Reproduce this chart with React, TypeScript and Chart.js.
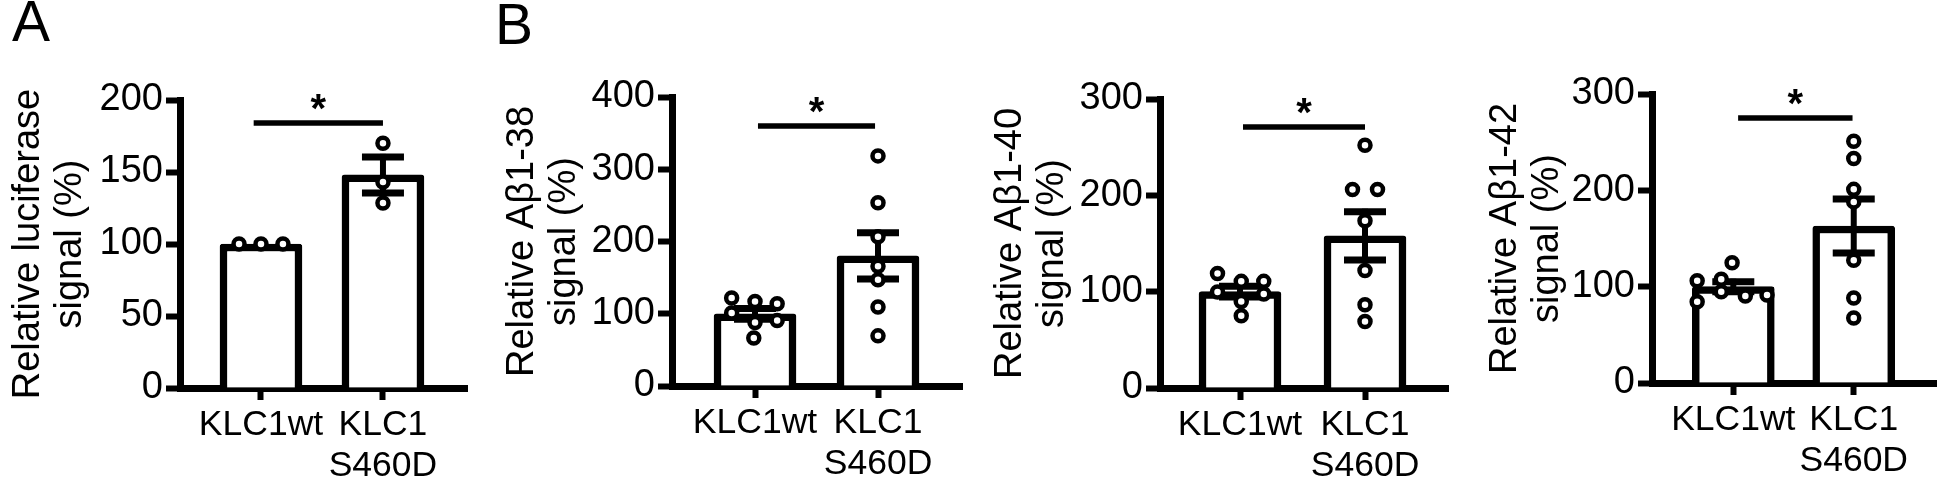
import React, { useEffect, useRef } from 'react';
import { Chart, registerables } from 'chart.js';

Chart.register(...registerables);

const FONT = '"Liberation Sans", Arial, Helvetica, sans-serif';

// ---- shared category labels ----
const categoryLabels: string[][] = [['KLC1wt'], ['KLC1', 'S460D']];

// ---- Panel A: luciferase ----
const lucMeans = [100, 148];
const lucSem = [0, 12.5];
const lucWt = [100, 100, 100];
const lucWtJitter = [-0.18, 0, 0.18];
const lucMut = [170, 143, 128.5];
const lucMutJitter = [0, 0, 0];
const lucSig = { y: 184, from: -0.06, to: 1.0 };
const lucTitle = ['Relative luciferase', 'signal (%)'];

// ---- Panel B: Aβ1-38 ----
const ab38Means = [99.8, 180];
const ab38Sem = [7.5, 32];
const ab38Wt = [121.8, 117.1, 113.9, 101, 87.9, 90.7, 66.3];
const ab38WtJitter = [-0.19, 0, 0.18, -0.19, 0, 0.18, -0.01];
const ab38Mut = [318.5, 253.7, 206.5, 165.7, 147.2, 109.3, 69.4];
const ab38MutJitter = [0, 0, 0, 0, 0, 0, 0];
const ab38Sig = { y: 360, from: 0.024, to: 0.976 };
const ab38Title = ['Relative Aβ1-38', 'signal (%)'];

// ---- Panel C: Aβ1-40 ----
const ab40Means = [100, 158];
const ab40Sem = [5.6, 25];
const ab40Wt = [118.75, 110.7, 110.7, 99.7, 89.9, 97.6, 75];
const ab40WtJitter = [-0.18, 0.01, 0.19, -0.18, 0.01, 0.19, 0.01];
const ab40Mut = [252, 206, 206, 173.6, 122, 86.5, 69];
const ab40MutJitter = [0, -0.1, 0.1, 0, 0, 0, 0];
const ab40Sig = { y: 271, from: 0.024, to: 1.0 };
const ab40Title = ['Relative Aβ1-40', 'signal (%)'];

// ---- Panel D: Aβ1-42 ----
const ab42Means = [100, 163];
const ab42Sem = [5.2, 28];
const ab42Wt = [124.9, 106.2, 107.7, 84.4, 94.8, 90.3, 91.4];
const ab42WtJitter = [-0.01, -0.3, -0.1, -0.3, -0.1, 0.1, 0.28];
const ab42Mut = [251, 233, 201, 188, 127.4, 88.2, 67.4];
const ab42MutJitter = [0, 0, 0, 0, 0, 0, 0];
const ab42Sig = { y: 275, from: 0.04, to: 0.99 };
const ab42Title = ['Relative Aβ1-42', 'signal (%)'];

const PAGE_H = 487;

const panels = [
  {
    key: 'A', letter: 'A', letterX: 12, letterY: 41,
    means: lucMeans, sem: lucSem, wt: lucWt, wtJ: lucWtJitter, mut: lucMut, mutJ: lucMutJitter,
    sig: lucSig, title: lucTitle, yMax: 200, yStep: 50,
    left: 0, width: 480, yAxisWidth: 180, top: 100, bottom: 388, padRight: 13,
    xMin: -0.664, xMax: 1.689, titlePad: 7,
  },
  {
    key: 'B', letter: 'B', letterX: 15, letterY: 44,
    means: ab38Means, sem: ab38Sem, wt: ab38Wt, wtJ: ab38WtJitter, mut: ab38Mut, mutJ: ab38MutJitter,
    sig: ab38Sig, title: ab38Title, yMax: 400, yStep: 100,
    left: 480, width: 500, yAxisWidth: 192, top: 97, bottom: 386, padRight: 18,
    xMin: -0.675, xMax: 1.683, titlePad: 21,
  },
  {
    key: 'C', letter: '', letterX: 0, letterY: 0,
    means: ab40Means, sem: ab40Sem, wt: ab40Wt, wtJ: ab40WtJitter, mut: ab40Mut, mutJ: ab40MutJitter,
    sig: ab40Sig, title: ab40Title, yMax: 300, yStep: 100,
    left: 980, width: 490, yAxisWidth: 180, top: 99, bottom: 388, padRight: 22,
    xMin: -0.64, xMax: 1.664, titlePad: 9,
  },
  {
    key: 'D', letter: '', letterX: 0, letterY: 0,
    means: ab42Means, sem: ab42Sem, wt: ab42Wt, wtJ: ab42WtJitter, mut: ab42Mut, mutJ: ab42MutJitter,
    sig: ab42Sig, title: ab42Title, yMax: 300, yStep: 100,
    left: 1470, width: 476, yAxisWidth: 182, top: 94, bottom: 383, padRight: 4,
    xMin: -0.675, xMax: 1.683, titlePad: 14,
  },
];

function Panel({ cfg }: { cfg: any }) {
  const ref = useRef<HTMLCanvasElement | null>(null);

  useEffect(() => {
    if (!ref.current) return;

    const annot = {
      id: 'annot' + cfg.key,
      afterDatasetDraw(chart: any, args: any) {
        if (args.index !== 0) return;
        const { ctx } = chart;
        const xs = chart.scales.x;
        const ys = chart.scales.y;
        ctx.save();
        ctx.strokeStyle = '#000';
        ctx.lineCap = 'butt';
        cfg.means.forEach((m: number, i: number) => {
          const s = cfg.sem[i];
          if (!s) return;
          const px = xs.getPixelForValue(i);
          const yt = ys.getPixelForValue(m + s);
          const yb = ys.getPixelForValue(m - s);
          ctx.lineWidth = 6;
          ctx.beginPath();
          ctx.moveTo(px, yt - 3);
          ctx.lineTo(px, yb + 3);
          ctx.stroke();
          ctx.lineWidth = 7;
          ctx.beginPath();
          ctx.moveTo(px - 21, yt);
          ctx.lineTo(px + 21, yt);
          ctx.moveTo(px - 21, yb);
          ctx.lineTo(px + 21, yb);
          ctx.stroke();
        });
        ctx.restore();
      },
      afterDraw(chart: any) {
        const { ctx } = chart;
        const xs = chart.scales.x;
        const ys = chart.scales.y;
        ctx.save();
        const x0 = xs.getPixelForValue(cfg.sig.from);
        const x1 = xs.getPixelForValue(cfg.sig.to);
        const y = ys.getPixelForValue(cfg.sig.y);
        ctx.strokeStyle = '#000';
        ctx.lineWidth = 5.5;
        ctx.beginPath();
        ctx.moveTo(x0, y);
        ctx.lineTo(x1, y);
        ctx.stroke();
        ctx.fillStyle = '#000';
        ctx.font = `bold 40px ${FONT}`;
        ctx.textAlign = 'center';
        ctx.textBaseline = 'alphabetic';
        ctx.fillText('*', (x0 + x1) / 2, y - 1);
        if (cfg.letter) {
          ctx.font = `57px ${FONT}`;
          ctx.textAlign = 'left';
          ctx.fillText(cfg.letter, cfg.letterX, cfg.letterY);
        }
        ctx.restore();
      },
    };

    const points = [
      ...cfg.wt.map((v: number, k: number) => ({ x: 0 + cfg.wtJ[k], y: v })),
      ...cfg.mut.map((v: number, k: number) => ({ x: 1 + cfg.mutJ[k], y: v })),
    ];

    const chart = new Chart(ref.current, {
      type: 'scatter',
      data: {
        datasets: [
          {
            type: 'bar',
            data: cfg.means.map((m: number, i: number) => ({ x: i, y: m })),
            backgroundColor: '#ffffff',
            borderColor: '#000000',
            borderWidth: 7.5,
            borderSkipped: 'start',
            borderRadius: { topLeft: 3, topRight: 3, bottomLeft: 0, bottomRight: 0 },
            barThickness: 82,
            order: 1,
          } as any,
          {
            type: 'scatter',
            data: points,
            pointRadius: 5.5,
            pointHoverRadius: 5.5,
            pointBorderWidth: 4.5,
            pointBackgroundColor: '#ffffff',
            pointBorderColor: '#000000',
            order: 0,
          } as any,
        ],
      },
      options: {
        responsive: false,
        animation: false,
        events: [],
        layout: { padding: { left: 0, top: cfg.top, right: cfg.padRight, bottom: 0 } },
        plugins: {
          legend: { display: false },
          tooltip: { enabled: false },
        },
        scales: {
          x: {
            type: 'linear',
            min: cfg.xMin,
            max: cfg.xMax,
            offset: false,
            afterBuildTicks: (s: any) => {
              s.ticks = [{ value: 0 }, { value: 1 }];
            },
            afterFit: (s: any) => {
              s.height = PAGE_H - cfg.bottom;
            },
            ticks: {
              autoSkip: false,
              maxRotation: 0,
              minRotation: 0,
              padding: 5,
              color: '#000',
              font: { size: 35.5, family: FONT, lineHeight: 1.15 },
              callback: (_v: any, i: number) => categoryLabels[i],
            },
            grid: {
              display: true,
              drawOnChartArea: false,
              drawTicks: true,
              offset: false,
              tickLength: 12,
              tickWidth: 6,
              tickColor: '#000',
              color: '#000',
            },
            border: { display: true, width: 7, color: '#000' },
          },
          y: {
            type: 'linear',
            min: 0,
            max: cfg.yMax,
            afterFit: (s: any) => {
              s.width = cfg.yAxisWidth;
            },
            ticks: {
              stepSize: cfg.yStep,
              padding: 3,
              color: '#000',
              font: { size: 38, family: FONT },
            },
            grid: {
              display: true,
              drawOnChartArea: false,
              drawTicks: true,
              tickLength: 14,
              tickWidth: 6,
              tickColor: '#000',
              color: '#000',
            },
            border: { display: true, width: 7, color: '#000' },
            title: {
              display: true,
              text: cfg.title,
              color: '#000',
              font: { size: 38, family: FONT, lineHeight: 1.12 },
              padding: { top: cfg.titlePad, bottom: 0 },
            },
          },
        },
      } as any,
      plugins: [annot],
    });

    return () => chart.destroy();
  }, [cfg]);

  return (
    <div style={{ position: 'absolute', left: cfg.left, top: 0, width: cfg.width, height: PAGE_H }}>
      <canvas ref={ref} width={cfg.width} height={PAGE_H} style={{ width: cfg.width, height: PAGE_H, display: 'block' }} />
    </div>
  );
}

export default function App() {
  return (
    <div style={{ position: 'absolute', left: 0, top: 0, width: 1946, height: PAGE_H, background: '#fff', overflow: 'hidden' }}>
      {panels.map((p) => (
        <Panel key={p.key} cfg={p} />
      ))}
    </div>
  );
}
